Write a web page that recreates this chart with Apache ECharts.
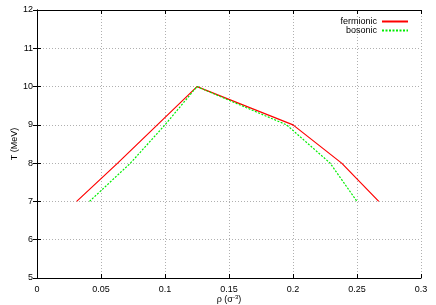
<!DOCTYPE html>
<html><head><meta charset="utf-8">
<script src="https://cdn.jsdelivr.net/npm/echarts@6/dist/echarts.min.js"></script>
<style>html,body{margin:0;padding:0;background:#fff}#c{width:436px;height:305px}</style>
</head><body><div id="c"></div>
<script>
const fermRho = [0.031, 0.063, 0.094, 0.125, 0.2, 0.238, 0.267];
const fermT   = [7, 8, 9, 10, 9, 8, 7];
const bosRho  = [0.041, 0.073, 0.1, 0.125, 0.195, 0.229, 0.25];
const bosT    = [7, 8, 9, 10, 9, 8, 7];
const seriesNames = ['fermionic', 'bosonic'];

const font = 'Liberation Sans, Arial, sans-serif';
const chart = echarts.init(document.getElementById('c'), null, {renderer: 'canvas'});
const gridLine = {show: true, lineStyle: {color: '#b0b0b0', type: [1, 2], width: 1}};
const axLine = {show: true, lineStyle: {color: '#000', width: 1}};
const tick = {show: true, inside: true, length: 4, lineStyle: {color: '#000'}};
chart.setOption({
  animation: false,
  grid: {left: 37, right: 15, top: 10, bottom: 27, containLabel: false, outerBoundsMode: 'none'},
  legend: {
    top: 12, right: 22, orient: 'vertical', align: 'right',
    itemWidth: 26, itemHeight: 8, itemGap: 0,
    itemStyle: {opacity: 0},
    textStyle: {fontFamily: font, fontSize: 9, color: '#000', padding: [0, 0, 0, 0]},
    data: seriesNames
  },
  xAxis: [{
    type: 'value', min: 0, max: 0.3, interval: 0.05,
    axisLine: axLine, axisTick: tick, splitLine: gridLine,
    axisLabel: {fontFamily: font, fontSize: 9, color: '#000', margin: 7},
    name: '{a|ρ (σ}{s|-3}{a|)}', nameLocation: 'middle', nameGap: 16, nameMoveOverlap: false,
    nameTextStyle: {rich: {a: {fontFamily: font, fontSize: 9, color: '#000'}, s: {fontFamily: font, fontSize: 6, color: '#000', verticalAlign: 'top', padding: [0,0,5,0]}}}
  }, {
    type: 'value', position: 'top', min: 0, max: 0.3, interval: 0.05,
    axisLine: axLine, axisTick: tick, splitLine: {show: false}, axisLabel: {show: false}
  }],
  yAxis: [{
    type: 'value', min: 5, max: 12, interval: 1,
    axisLine: axLine, axisTick: tick, splitLine: gridLine,
    axisLabel: {fontFamily: font, fontSize: 9, color: '#000', margin: 4},
    name: 'T (MeV)', nameLocation: 'middle', nameGap: 18, nameRotate: 90, nameMoveOverlap: false,
    nameTextStyle: {fontFamily: font, fontSize: 9, color: '#000'}
  }, {
    type: 'value', position: 'right', min: 5, max: 12, interval: 1,
    axisLine: axLine, axisTick: tick, splitLine: {show: false}, axisLabel: {show: false}
  }],
  series: [{
    name: seriesNames[0], type: 'line', symbol: 'none',
    data: fermRho.map((r, i) => [r, fermT[i]]),
    lineStyle: {color: '#ff0000', width: 1.2}, itemStyle: {color: '#ff0000'}
  }, {
    name: seriesNames[1], type: 'line', symbol: 'none',
    data: bosRho.map((r, i) => [r, bosT[i]]),
    lineStyle: {color: '#00ee00', width: 1.2, type: [2, 1.5]}, itemStyle: {color: '#00ee00'}
  }]
});
</script></body></html>
